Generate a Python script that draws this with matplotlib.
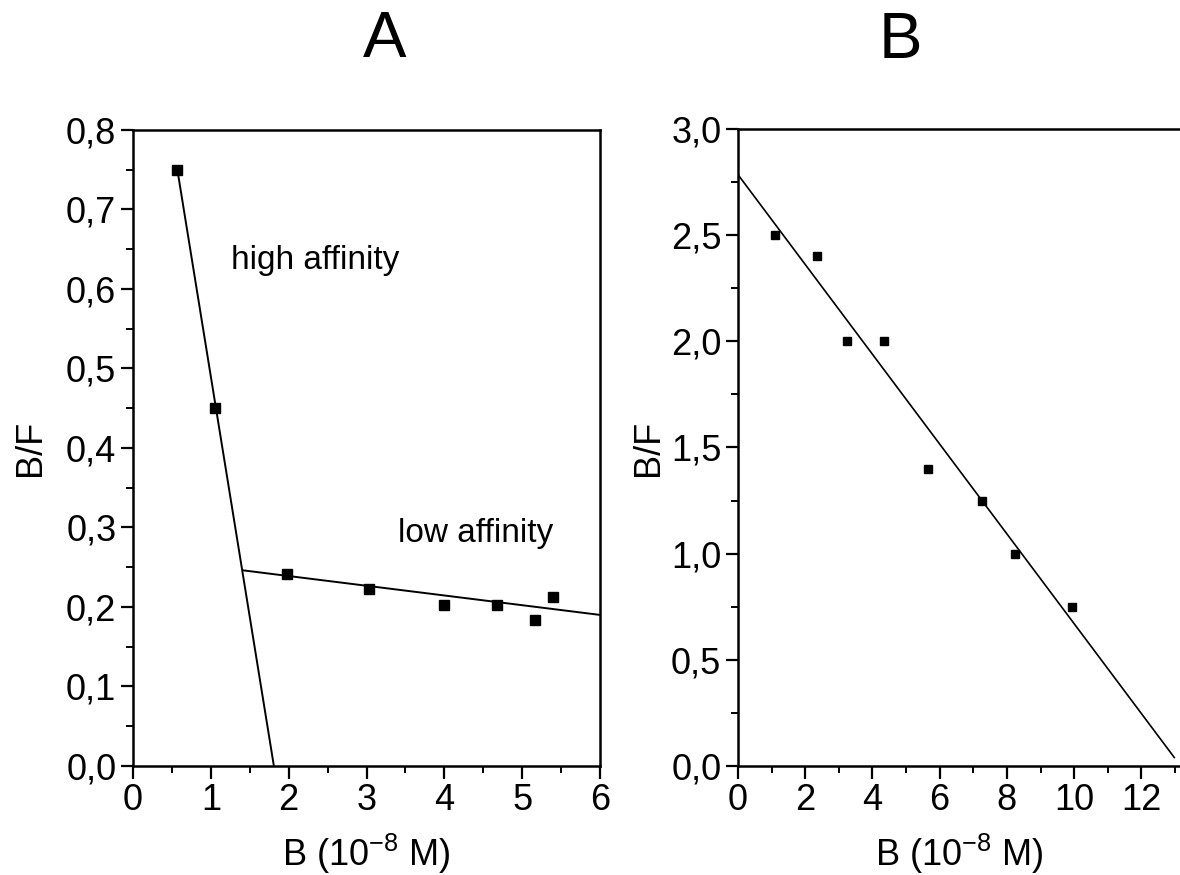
import numpy as np
import matplotlib
matplotlib.use('Agg')
import matplotlib.pyplot as plt
from matplotlib.ticker import MultipleLocator, FuncFormatter

plt.rcParams['font.family'] = ['Liberation Sans', 'DejaVu Sans']

# ---- Panel A: Scatchard, two binding sites ----
A_X = [0.57, 1.05, 1.98, 3.03, 3.99, 4.68, 5.16, 5.39]
A_Y = [0.75, 0.45, 0.242, 0.222, 0.203, 0.203, 0.183, 0.213]
A_HIGH_X = [0.57, 1.81]
A_HIGH_Y = [0.75, 0.0]
A_LOW_X = [1.42, 6.0]
A_LOW_Y = [0.246, 0.190]

# ---- Panel B: Scatchard, single site ----
B_X = [1.1, 2.35, 3.25, 4.35, 5.65, 7.25, 8.25, 9.95]
B_Y = [2.5, 2.4, 2.0, 2.0, 1.4, 1.25, 1.0, 0.75]
B_FIT_X = [0.0, 12.98]
B_FIT_Y = [2.785, 0.04]

XLABEL = r'B (10$^{\mathregular{-8}}$ M)'
YLABEL = 'B/F'
FS = 26


def comma(v, pos):
    return f'{v:.1f}'.replace('.', ',')


def style(ax, ylab_x):
    for s in ax.spines.values():
        s.set_linewidth(1.8)
    ax.tick_params(which='major', direction='out', length=9, width=1.6,
                   labelsize=FS, pad=3)
    ax.tick_params(which='minor', direction='out', length=5, width=1.4)
    ax.xaxis.set_major_formatter(FuncFormatter(lambda v, p: f'{v:.0f}'))
    ax.yaxis.set_major_formatter(FuncFormatter(comma))
    ax.set_xlabel(XLABEL, fontsize=FS)
    ax.set_ylabel(YLABEL, fontsize=FS)
    ax.xaxis.set_label_coords(0.5, -0.157)
    ax.xaxis.label.set_va('baseline')
    ax.yaxis.set_label_coords(ylab_x, 0.5)
    ax.yaxis.label.set_va('baseline')


fig = plt.figure(figsize=(11.8, 8.75), dpi=100)

# ---- A ----
ax = fig.add_axes([0.1127, 0.1246, 0.3958, 0.7269])
ax.plot(A_HIGH_X, A_HIGH_Y, color='black', linewidth=1.4)
ax.plot(A_LOW_X, A_LOW_Y, color='black', linewidth=1.4)
ax.plot(A_X, A_Y, 's', color='black', markersize=7)
ax.set_xlim(0, 6)
ax.set_ylim(0, 0.8)
ax.xaxis.set_major_locator(MultipleLocator(1))
ax.xaxis.set_minor_locator(MultipleLocator(0.5))
ax.yaxis.set_major_locator(MultipleLocator(0.1))
ax.yaxis.set_minor_locator(MultipleLocator(0.05))
style(ax, -0.199)
ax.text(1.256, 0.625, 'high affinity', fontsize=24, va='baseline')
ax.text(3.40, 0.282, 'low affinity', fontsize=24, va='baseline')

# ---- B ----
bx = fig.add_axes([0.6254, 0.1246, 0.3746, 0.7280])
bx.plot(B_FIT_X, B_FIT_Y, color='black', linewidth=1.2)
bx.plot(B_X, B_Y, 's', color='black', markersize=5.5)
bx.set_xlim(0, 13.15)
bx.set_ylim(0, 3.0)
bx.xaxis.set_major_locator(MultipleLocator(2))
bx.xaxis.set_minor_locator(MultipleLocator(1))
bx.yaxis.set_major_locator(MultipleLocator(0.5))
bx.yaxis.set_minor_locator(MultipleLocator(0.25))
bx.spines['right'].set_visible(False)
style(bx, -0.181)

# panel letters
fig.text(385 / 1180, 1 - 57 / 875, 'A', fontsize=47, ha='center', va='baseline')
fig.text(900 / 1180, 1 - 58 / 875, 'B', fontsize=47, ha='center', va='baseline')

fig.savefig('out.png', dpi=100)
